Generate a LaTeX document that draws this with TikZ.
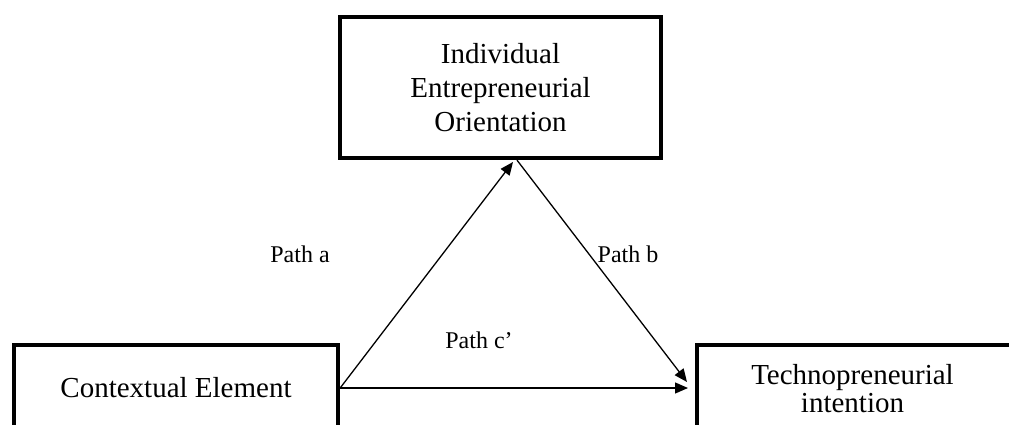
\documentclass[tikz,border=0pt]{standalone}
\usepackage{fontspec}
\setmainfont{Liberation Serif}
\usetikzlibrary{arrows.meta,calc}
\begin{document}
\begin{tikzpicture}[x=1pt,y=-1pt,
  box/.style={draw,line width=3.8pt,inner sep=0pt,align=center,font=\fontsize{29}{34}\selectfont},
  arr/.style={line width=1.3pt,-{Triangle[length=13pt,width=11pt]}},
  lbl/.style={anchor=base,inner sep=0pt,font=\fontsize{24}{28}\selectfont}]
\useasboundingbox (0,0) rectangle (1009,425);
\begin{scope}
\clip (0,0) rectangle (1009,425);
\node[box,minimum width=321.5pt,minimum height=141.5pt] (io) at (500.5,87.5)
  {Individual\\Entrepreneurial\\Orientation};
\node[box,minimum width=324.5pt,minimum height=86.5pt] (cl) at (176,388)
  {Contextual Element};
\node[box,minimum width=360pt,minimum height=85.5pt] (ti) at (876.75,387.5) {};
\end{scope}
\node[align=center,inner sep=0pt,font=\fontsize{29}{28}\selectfont] (tt) at (852.5,389)
  {Technopreneurial\\intention};
\coordinate (at) at (513,162);
\coordinate (bt) at (687,382);
\coordinate (ct) at (688,388);
\draw[arr] (cl.east) -- (at);
\draw[arr] ([xshift=16.5pt]io.south) -- (bt);
\draw[arr] (cl.east) -- (ct);
\node[lbl] (pa) at (300,262) {Path a};
\node[lbl] (pb) at (628,262) {Path b};
\node[lbl] (pc) at (479,348) {Path c’};
\end{tikzpicture}
\end{document}
